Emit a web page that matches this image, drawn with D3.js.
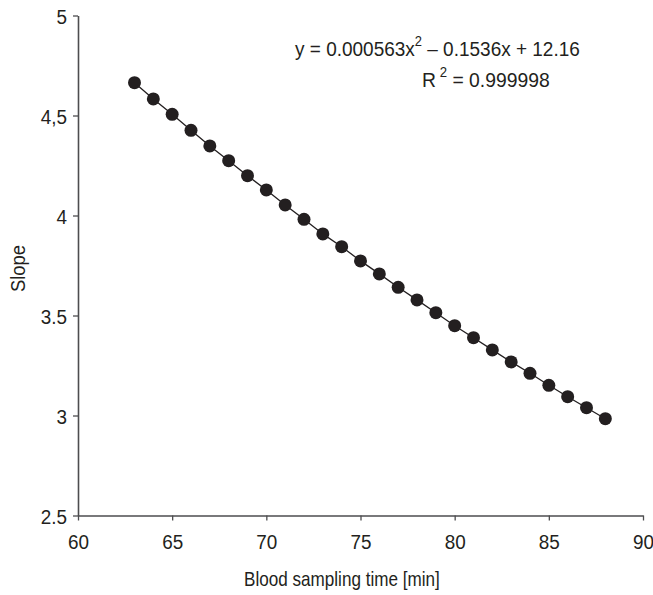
<!DOCTYPE html>
<html>
<head>
<meta charset="utf-8">
<script src="https://cdn.jsdelivr.net/npm/d3@7"></script>
<style>
  body { margin: 0; background: #fff; }
  text { font-family: "Liberation Sans", Arial, sans-serif; fill: #231f20; }
</style>
</head>
<body>
<div id="chart"></div>
<script>
// sampling times (min)
const times = [63, 64, 65, 66, 67, 68, 69, 70, 71, 72, 73, 74, 75, 76, 77, 78, 79, 80, 81, 82, 83, 84, 85, 86, 87, 88];
// slope
const slopes = [4.664, 4.583, 4.506, 4.426, 4.348, 4.274, 4.199, 4.128, 4.053, 3.981, 3.908, 3.844, 3.773,
                3.708, 3.641, 3.578, 3.514, 3.449, 3.389, 3.328, 3.268, 3.211, 3.151, 3.094, 3.039, 2.984];

const xTicks = [60, 65, 70, 75, 80, 85, 90];
const yTicks = [2.5, 3, 3.5, 4, 4.5, 5];
const yTickLabels = ["2.5", "3", "3.5", "4", "4,5", "5"];

const W = 653, H = 595;
const margin = {top: 15.5, right: 10, bottom: 79.5, left: 78};
const width = W - margin.left - margin.right,
      height = H - margin.top - margin.bottom;

const svg = d3.select("#chart")
  .append("svg")
    .attr("width", W)
    .attr("height", H);

const g = svg.append("g")
  .attr("transform", `translate(${margin.left},${margin.top})`);

const x = d3.scaleLinear().domain([60, 90]).range([0, 565]);
const y = d3.scaleLinear().domain([2.5, 5]).range([height, 0]);

// squeeze tick text horizontally so it looks like the condensed face in the original
const narrow = 0.9;

// X axis
const xAxis = g.append("g")
  .attr("transform", `translate(0,${height})`)
  .call(d3.axisBottom(x).tickValues(xTicks).tickSize(5).tickSizeOuter(0).tickPadding(14));
// Y axis
const yAxis = g.append("g")
  .call(d3.axisLeft(y).tickValues(yTicks).tickFormat((d, i) => yTickLabels[i]).tickSize(5).tickSizeOuter(0).tickPadding(4));

[xAxis, yAxis].forEach(a => {
  a.select(".domain").attr("stroke", "#4d4d4f").attr("stroke-width", 1.6);
  a.selectAll(".tick line").attr("stroke", "#4d4d4f").attr("stroke-width", 1.3);
  a.selectAll(".tick text").attr("font-size", 21).attr("fill", "#231f20")
    .style("font-family", "'Liberation Sans', Arial, sans-serif");
});
xAxis.selectAll(".tick text").attr("transform", `scale(${narrow},1)`);
yAxis.selectAll(".tick text").attr("dy", "0.36em").attr("x", -11 / narrow).attr("transform", `scale(${narrow},1)`);

const pts = times.map((t, i) => ({t: t, s: slopes[i]}));

// connecting line
g.append("path")
  .datum(pts)
  .attr("fill", "none")
  .attr("stroke", "#231f20")
  .attr("stroke-width", 1.3)
  .attr("d", d3.line().x(d => x(d.t)).y(d => y(d.s)));

// points
g.selectAll("circle")
  .data(pts)
  .join("circle")
    .attr("cx", d => x(d.t))
    .attr("cy", d => y(d.s))
    .attr("r", 6.5)
    .attr("fill", "#231f20");

// place a text with its left edge at (x0, y0) and squeeze it to the wanted width
function fit(sel, x0, y0, w, rot) {
  const len = sel.node().getComputedTextLength();
  const sx = w / len;
  sel.attr("transform", `translate(${x0},${y0})${rot ? " rotate(-90)" : ""} scale(${sx},1)`);
}

// axis titles
const xTitle = svg.append("text")
  .attr("font-size", 21)
  .text("Blood sampling time [min]");
fit(xTitle, 244, 586, 196);

const yTitle = svg.append("text")
  .attr("font-size", 21)
  .text("Slope");
fit(yTitle, 25, 292, 47, true);

// regression equation
const eq = svg.append("text")
  .attr("font-size", 20.5);
eq.append("tspan").text("y = 0.000563x");
eq.append("tspan").attr("dy", -10).attr("font-size", 14).text("2");
eq.append("tspan").attr("dy", 10).text(" – 0.1536x + 12.16");
fit(eq, 295, 56, 285);

const r2 = svg.append("text")
  .attr("font-size", 20.5);
r2.append("tspan").text("R");
r2.append("tspan").attr("dy", -10).attr("dx", 4).attr("font-size", 14).text("2");
r2.append("tspan").attr("dy", 10).text(" = 0.999998");
fit(r2, 422, 87, 124);
</script>
</body>
</html>
